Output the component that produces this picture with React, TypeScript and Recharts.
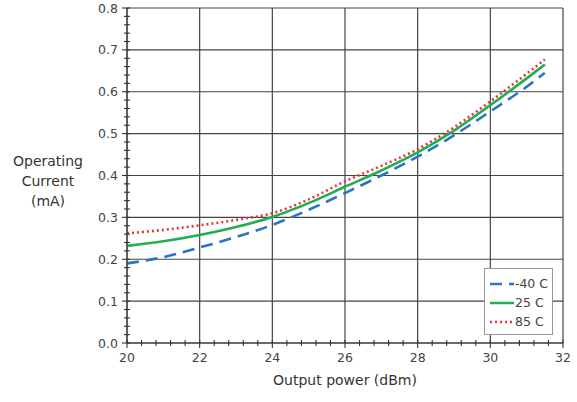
import { CartesianGrid, Label, Legend, Line, LineChart, XAxis, YAxis } from "recharts";

const power = [20, 21, 22, 23, 24, 25, 26, 27, 28, 29, 30, 31, 31.5];
const coldCurrent = [0.19, 0.205, 0.228, 0.253, 0.282, 0.318, 0.358, 0.4, 0.445, 0.496, 0.553, 0.612, 0.645];
const roomCurrent = [0.232, 0.243, 0.258, 0.277, 0.301, 0.334, 0.373, 0.412, 0.455, 0.507, 0.568, 0.632, 0.665];
const hotCurrent = [0.262, 0.27, 0.281, 0.294, 0.31, 0.343, 0.386, 0.423, 0.463, 0.515, 0.577, 0.643, 0.677];

const xDomain = [20, 32];
const yDomain = [0, 0.8];
const xMajor = [20, 22, 24, 26, 28, 30, 32];
const yMajor = [0, 0.1, 0.2, 0.3, 0.4, 0.5, 0.6, 0.7, 0.8];
const xAll = Array.from({ length: 31 }, (_, i) => Math.round((20 + i * 0.4) * 10) / 10);
const yAll = Array.from({ length: 41 }, (_, i) => Math.round(i * 2) / 100);

const data = power.map((x, i) => ({
  x,
  cold: coldCurrent[i],
  room: roomCurrent[i],
  hot: hotCurrent[i],
}));

const font = "'DejaVu Sans', Verdana, sans-serif";
const isMajor = (v: number, list: number[]) => list.some((m) => Math.abs(m - v) < 1e-6);

// grid only on the major ticks, mapped with the axis scale when available
function gridX({ xAxis, offset }: any) {
  if (xAxis && typeof xAxis.scale === "function") return xMajor.map((v) => xAxis.scale(v));
  return xMajor.map((v) => offset.left + ((v - xDomain[0]) / (xDomain[1] - xDomain[0])) * offset.width);
}
function gridY({ yAxis, offset }: any) {
  if (yAxis && typeof yAxis.scale === "function") return yMajor.map((v) => yAxis.scale(v));
  return yMajor.map((v) => offset.top + (1 - (v - yDomain[0]) / (yDomain[1] - yDomain[0])) * offset.height);
}

function XTick({ x, y, payload }: any) {
  const major = isMajor(payload.value, xMajor);
  return (
    <g>
      <line x1={x} x2={x} y1={y - 3} y2={y + (major ? 5 : 3)} stroke="#333" strokeWidth={1.1} />
      {major && (
        <text x={x} y={y + 19} textAnchor="middle" fontSize={12.5} fill="#444" fontFamily={font}>
          {payload.value}
        </text>
      )}
    </g>
  );
}

function YTick({ x, y, payload }: any) {
  const major = isMajor(payload.value, yMajor);
  return (
    <g>
      <line x1={x - (major ? 5 : 3)} x2={x + 3} y1={y} y2={y} stroke="#333" strokeWidth={1.1} />
      {major && (
        <text x={x - 9} y={y + 4.5} textAnchor="end" fontSize={12.5} fill="#444" fontFamily={font}>
          {payload.value.toFixed(1)}
        </text>
      )}
    </g>
  );
}

// zero-size wrapper so the legend does not eat plot space
function LegendBox({ payload }: any) {
  return (
    <div style={{ position: "relative", width: 0, height: 0 }}>
      <div
        style={{
          position: "absolute",
          left: 0,
          top: 0,
          width: 58,
          background: "#fff",
          border: "1.5px solid #999",
          padding: "5px 4px 3px 5px",
          fontFamily: font,
          fontSize: 12.5,
          color: "#444",
          whiteSpace: "nowrap",
        }}
      >
        {(payload || []).map((p: any) => (
          <div key={p.value} style={{ display: "flex", alignItems: "center", height: 19 }}>
            <svg width={24} height={6} style={{ marginRight: 1 }}>
              <line
                x1={0}
                y1={3}
                x2={24}
                y2={3}
                stroke={p.color}
                strokeWidth={2.5}
                strokeDasharray={p.payload?.strokeDasharray}
              />
            </svg>
            <span>{p.value}</span>
          </div>
        ))}
      </div>
    </div>
  );
}

function YTitle({ viewBox }: any) {
  const cy = viewBox.y + viewBox.height / 2;
  return (
    <text x={48} y={cy} textAnchor="middle" fontSize={14} fill="#333" fontFamily={font}>
      <tspan x={48} dy={-10}>Operating</tspan>
      <tspan x={48} dy={20}>Current</tspan>
      <tspan x={48} dy={20}>(mA)</tspan>
    </text>
  );
}

export default function App() {
  return (
    <div style={{ position: "absolute", left: 0, top: 0, width: 577, height: 402, background: "#fff" }}>
      <LineChart width={577} height={402} data={data} margin={{ top: 8, right: 14, left: 87, bottom: 29 }}>
        <CartesianGrid
          stroke="#444"
          strokeWidth={1.2}
          verticalCoordinatesGenerator={gridX}
          horizontalCoordinatesGenerator={gridY}
        />
        <XAxis
          dataKey="x"
          type="number"
          domain={xDomain}
          ticks={xAll}
          interval={0}
          allowDataOverflow
          height={30}
          tick={<XTick />}
          tickLine={false}
          tickSize={0}
          tickMargin={0}
          stroke="#333"
        >
          <Label value="Output power (dBm)" position="bottom" offset={2} style={{ fontSize: 14, fill: "#333", fontFamily: font }} />
        </XAxis>
        <YAxis
          type="number"
          domain={yDomain}
          ticks={yAll}
          interval={0}
          width={40}
          tick={<YTick />}
          tickLine={false}
          tickSize={0}
          tickMargin={0}
          stroke="#333"
        >
          <Label content={<YTitle />} />
        </YAxis>
        <Legend
          layout="vertical"
          align="left"
          verticalAlign="top"
          content={<LegendBox />}
          wrapperStyle={{ left: 484, top: 268 }}
        />
        <Line
          dataKey="cold"
          name="-40 C"
          type="monotone"
          stroke="#2a74c4"
          strokeWidth={2.6}
          strokeDasharray="12 7"
          dot={false}
          isAnimationActive={false}
        />
        <Line
          dataKey="room"
          name="25 C"
          type="monotone"
          stroke="#22ad4e"
          strokeWidth={2.6}
          dot={false}
          isAnimationActive={false}
        />
        <Line
          dataKey="hot"
          name="85 C"
          type="monotone"
          stroke="#e2353d"
          strokeWidth={2.6}
          strokeDasharray="2 3"
          dot={false}
          isAnimationActive={false}
        />
      </LineChart>
    </div>
  );
}
